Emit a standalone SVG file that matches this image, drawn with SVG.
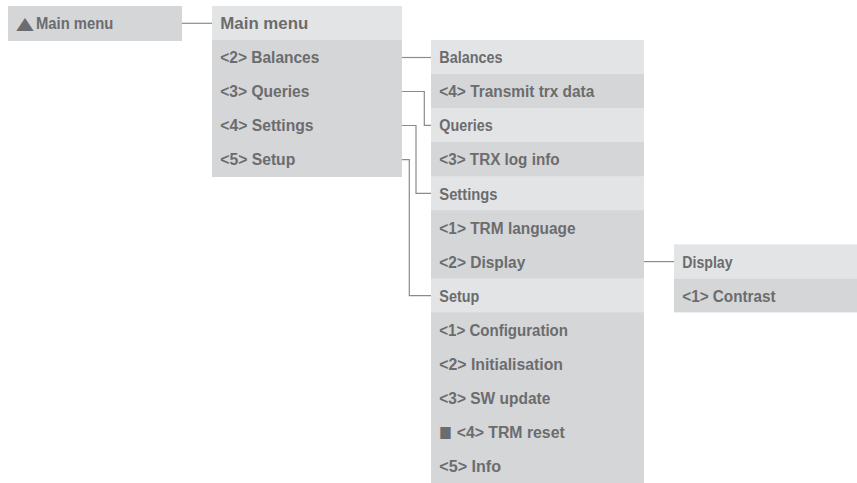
<svg xmlns="http://www.w3.org/2000/svg" width="857" height="483" viewBox="0 0 857 483">
<style>
.h{fill:#e3e4e6}
.d{fill:#d5d6d8}
text{font-family:"Liberation Sans",Arial,sans-serif;font-weight:bold;font-size:16px;fill:#6b6c6e}
.sym{font-family:"DejaVu Sans",sans-serif;font-weight:normal}
.c{fill:none;stroke:#8a8b8d;stroke-width:1.2}
</style>
<rect width="857" height="483" fill="#ffffff"/>
<g id="back">
<rect class="d" x="8" y="6" width="174" height="35"/>
<text x="16.3" y="28.6"><tspan class="sym" font-size="17" textLength="17.4" lengthAdjust="spacingAndGlyphs">▲</tspan><tspan x="36" textLength="77.3" lengthAdjust="spacingAndGlyphs">Main menu</tspan></text>
</g>
<g id="mainmenu">
<rect class="h" x="212" y="6" width="190" height="34"/>
<rect class="d" x="212" y="40" width="190" height="137"/>
<text x="220.3" y="29.3" textLength="88" lengthAdjust="spacingAndGlyphs">Main menu</text>
<text x="220.3" y="63.3" textLength="99" lengthAdjust="spacingAndGlyphs">&lt;2&gt; Balances</text>
<text x="220.3" y="97.3" textLength="89" lengthAdjust="spacingAndGlyphs">&lt;3&gt; Queries</text>
<text x="220.3" y="131.4" textLength="93.3" lengthAdjust="spacingAndGlyphs">&lt;4&gt; Settings</text>
<text x="220.3" y="165.4" textLength="75" lengthAdjust="spacingAndGlyphs">&lt;5&gt; Setup</text>
</g>
<g id="submenus">
<rect class="d" x="431" y="40" width="213" height="443"/>
<rect class="h" x="431" y="40" width="213" height="34"/>
<rect class="h" x="431" y="108" width="213" height="34"/>
<rect class="h" x="431" y="176.2" width="213" height="34.1"/>
<rect class="h" x="431" y="278.4" width="213" height="34"/>
<text x="439.3" y="63.3" textLength="63.3" lengthAdjust="spacingAndGlyphs">Balances</text>
<text x="439.3" y="97.3" textLength="155" lengthAdjust="spacingAndGlyphs">&lt;4&gt; Transmit trx data</text>
<text x="439.3" y="131.3" textLength="53.3" lengthAdjust="spacingAndGlyphs">Queries</text>
<text x="439.3" y="165.4" textLength="120.3" lengthAdjust="spacingAndGlyphs">&lt;3&gt; TRX log info</text>
<text x="439.3" y="199.5" textLength="58.3" lengthAdjust="spacingAndGlyphs">Settings</text>
<text x="439.3" y="233.6" textLength="136.3" lengthAdjust="spacingAndGlyphs">&lt;1&gt; TRM language</text>
<text x="439.3" y="267.6" textLength="86" lengthAdjust="spacingAndGlyphs">&lt;2&gt; Display</text>
<text x="439.3" y="301.7" textLength="40" lengthAdjust="spacingAndGlyphs">Setup</text>
<text x="439.3" y="335.7" textLength="128.7" lengthAdjust="spacingAndGlyphs">&lt;1&gt; Configuration</text>
<text x="439.3" y="369.8" textLength="123.7" lengthAdjust="spacingAndGlyphs">&lt;2&gt; Initialisation</text>
<text x="439.3" y="403.8" textLength="111" lengthAdjust="spacingAndGlyphs">&lt;3&gt; SW update</text>
<text x="439.3" y="437.4"><tspan class="sym" font-size="15.5" textLength="12.7" lengthAdjust="spacingAndGlyphs">■</tspan><tspan x="456.7" y="437.9" textLength="108" lengthAdjust="spacingAndGlyphs">&lt;4&gt; TRM reset</tspan></text>
<text x="439.3" y="471.9" textLength="61.7" lengthAdjust="spacingAndGlyphs">&lt;5&gt; Info</text>
</g>
<g id="display">
<rect class="h" x="674" y="244.3" width="183" height="34.1"/>
<rect class="d" x="674" y="278.4" width="183" height="34"/>
<text x="682.3" y="267.6" textLength="50.3" lengthAdjust="spacingAndGlyphs">Display</text>
<text x="682.3" y="301.7" textLength="93.3" lengthAdjust="spacingAndGlyphs">&lt;1&gt; Contrast</text>
</g>
<g id="connectors">
<path class="c" d="M182 23.3H212"/>
<path class="c" d="M402 57.5H431"/>
<path class="c" d="M402 91.5H424.3V125.3H431"/>
<path class="c" d="M402 125.5H416V193.3H431"/>
<path class="c" d="M402 159.7H409.3V295.6H431"/>
<path class="c" d="M644 261.6H674"/>
</g>
</svg>
